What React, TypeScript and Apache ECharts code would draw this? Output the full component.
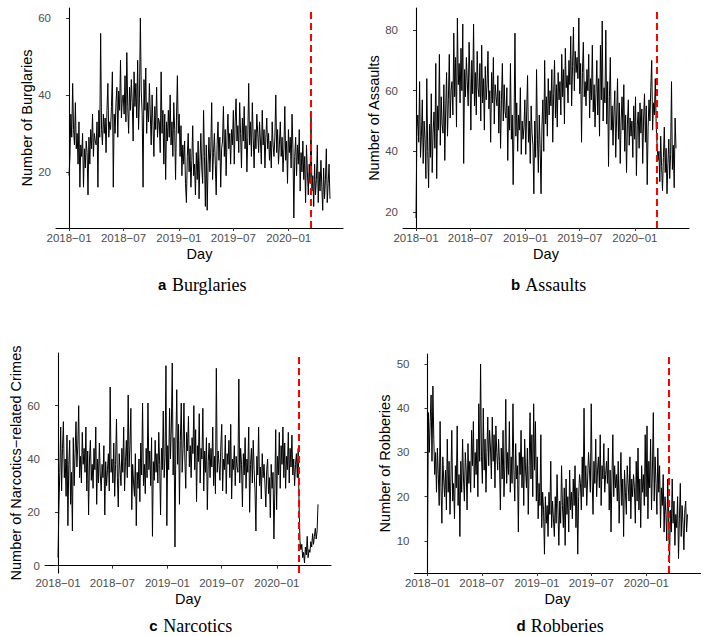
import React, { useEffect, useRef } from "react";
import * as echarts from "echarts";

// Day offsets from 2018-01-01 for the x-axis breaks, and their labels
const tickDays = [0, 181, 365, 546, 730];
const tickLabels = ["2018\u221201", "2018\u221207", "2019\u221201", "2019\u221207", "2020\u221201"];
const lockdownDay = 804; // 2020-03-15
const stepDays = 3; // one reading every 3 days from 2018-01-01

const burglaries = [
  19, 24, 35, 29, 43, 31, 27, 38, 26, 30,
  22, 33, 16, 27, 24, 30, 16, 26, 21, 28,
  25, 14, 29, 22, 31, 26, 35, 24, 30, 28,
  27, 33, 16, 36, 29, 56, 31, 27, 35, 30,
  34, 25, 36, 43, 29, 33, 31, 37, 46, 16,
  35, 30, 38, 42, 29, 41, 36, 49, 34, 39,
  40, 35, 45, 33, 51, 37, 30, 42, 36, 44,
  38, 28, 46, 37, 43, 34, 49, 31, 39, 60,
  41, 35, 16, 44, 36, 47, 30, 38, 33, 43,
  35, 27, 40, 32, 24, 37, 31, 42, 29, 34,
  33, 25, 46, 30, 36, 22, 35, 18, 33, 28,
  36, 29, 40, 27, 33, 24, 38, 31, 18, 34,
  45, 30, 35, 24, 32, 19, 27, 22, 28, 17,
  12, 24, 30, 20, 26, 16, 23, 32, 19, 22,
  14, 25, 18, 28, 13, 23, 30, 21, 17, 36,
  24, 11, 27, 10, 22, 29, 20, 26, 38, 18,
  25, 30, 22, 14, 27, 33, 23, 29, 16, 26,
  28, 37, 24, 31, 19, 29, 35, 26, 30, 22,
  31, 27, 36, 22, 33, 39, 28, 32, 25, 38,
  30, 21, 34, 28, 37, 26, 32, 20, 29, 43,
  27, 33, 24, 38, 29, 21, 31, 26, 35, 30,
  25, 33, 28, 22, 36, 27, 31, 21, 29, 34,
  26, 30, 23, 28, 21, 33, 27, 24, 29, 40,
  25, 31, 22, 27, 33, 24, 29, 20, 26, 37,
  23, 28, 17, 31, 25, 29, 21, 35, 26, 8,
  24, 29, 19, 27, 22, 31, 15, 25, 20, 28,
  18, 24, 12, 27, 20, 14, 22, 17, 34, 15,
  19, 11, 22, 14, 18, 27, 12, 20, 15, 23,
  16, 10, 21, 13, 18, 26, 12, 17, 22, 13,
];

const assaults = [
  18, 47, 52, 43, 63, 38, 45, 57, 36, 50,
  44, 31, 64, 40, 28, 49, 38, 59, 33, 46,
  53, 41, 69, 31, 55, 47, 72, 42, 58, 49,
  46, 62, 37, 54, 66, 45, 57, 72, 51, 60,
  63, 52, 79, 58, 71, 48, 84, 62, 69, 56,
  74, 60, 82, 36, 67, 58, 71, 63, 55, 76,
  64, 47, 70, 59, 82, 55, 66, 52, 73, 61,
  58, 69, 50, 75, 56, 64, 47, 68, 57, 62,
  73, 54, 60, 43, 66, 56, 71, 49, 62, 58,
  55, 65, 46, 60, 41, 57, 69, 50, 62, 53,
  51, 61, 37, 55, 47, 69, 44, 52, 29, 49,
  79, 45, 56, 40, 52, 47, 61, 39, 50, 44,
  48, 57, 39, 53, 65, 43, 50, 36, 55, 46,
  42, 26, 50, 38, 67, 44, 33, 52, 41, 26,
  48, 57, 40, 70, 49, 58, 45, 64, 52, 60,
  55, 67, 43, 59, 70, 51, 62, 48, 66, 57,
  63, 52, 72, 58, 67, 49, 74, 61, 65, 56,
  70, 62, 78, 55, 68, 81, 60, 73, 66, 71,
  64, 84, 59, 69, 43, 66, 76, 58, 63, 55,
  67, 60, 72, 51, 64, 57, 75, 53, 62, 48,
  59, 70, 52, 64, 45, 75, 57, 83, 50, 61,
  56, 80, 49, 63, 35, 58, 71, 47, 55, 42,
  53, 60, 38, 51, 64, 44, 56, 36, 50, 58,
  47, 62, 40, 52, 33, 49, 57, 42, 51, 45,
  50, 38, 55, 44, 58, 32, 49, 53, 41, 56,
  46, 54, 36, 51, 59, 43, 55, 29, 48, 57,
  50, 61, 70, 47, 56, 52, 64, 48, 42, 37,
  40, 30, 45, 35, 27, 38, 48, 33, 41, 26,
  36, 44, 31, 39, 63, 34, 42, 28, 51, 41,
];

const narcotics = [
  3, 22, 35, 52, 28, 44, 54, 33, 40, 26,
  49, 15, 38, 47, 23, 35, 13, 48, 30, 42,
  54, 37, 45, 60, 33, 41, 31, 50, 38, 44,
  35, 52, 28, 43, 19, 40, 47, 32, 38, 29,
  44, 36, 52, 23, 40, 31, 46, 34, 28, 38,
  33, 45, 19, 39, 30, 36, 42, 28, 67, 35,
  40, 31, 46, 26, 38, 55, 33, 22, 42, 36,
  30, 44, 35, 52, 28, 39, 47, 33, 64, 37,
  45, 59, 21, 38, 31, 26, 42, 15, 35, 29,
  40, 24, 46, 34, 61, 30, 38, 27, 44, 33,
  61, 36, 43, 30, 48, 11, 39, 32, 47, 35,
  42, 31, 50, 38, 19, 44, 36, 58, 33, 41,
  75, 15, 45, 36, 59, 40, 52, 76, 34, 48,
  7, 46, 66, 38, 53, 23, 47, 61, 35, 44,
  61, 40, 29, 50, 43, 56, 37, 45, 33, 48,
  42, 60, 36, 51, 24, 45, 39, 57, 31, 44,
  40, 59, 28, 43, 35, 48, 21, 39, 46, 33,
  44, 37, 52, 30, 41, 27, 74, 35, 43, 38,
  32, 45, 53, 28, 40, 36, 49, 27, 42, 38,
  47, 33, 53, 25, 40, 36, 45, 30, 41, 37,
  35, 70, 31, 44, 38, 22, 42, 34, 48, 29,
  40, 35, 52, 20, 38, 44, 31, 47, 36, 28,
  13, 41, 34, 52, 30, 37, 25, 42, 33, 38,
  31, 22, 36, 40, 27, 33, 18, 38, 29, 35,
  10, 28, 51, 21, 41, 34, 50, 29, 45, 38,
  52, 33, 46, 29, 41, 36, 50, 31, 44, 37,
  49, 34, 40, 30, 38, 42, 33, 44, 22, 9,
  6, 8, 3, 5, 1, 7, 4, 11, 3, 6,
  5, 9, 7, 12, 8, 11, 14, 10, 13, 23,
];

const robberies = [
  8, 39, 30, 37, 43, 28, 45, 33, 25, 30,
  21, 31, 25, 18, 37, 22, 14, 29, 24, 20,
  26, 17, 33, 21, 28, 16, 24, 35, 19, 23,
  15, 27, 22, 36, 18, 25, 11, 28, 21, 33,
  24, 19, 30, 26, 17, 32, 23, 28, 21, 35,
  27, 37, 22, 30, 25, 33, 20, 41, 28, 50,
  29, 23, 40, 26, 33, 21, 30, 38, 27, 35,
  31, 24, 38, 28, 34, 22, 36, 30, 26, 33,
  28, 17, 31, 24, 35, 20, 27, 42, 23, 30,
  25, 37, 21, 29, 23, 41, 26, 19, 32, 24,
  27, 12, 30, 25, 35, 22, 29, 18, 33, 26,
  22, 31, 16, 27, 39, 24, 34, 20, 41, 26,
  37, 19, 29, 15, 23, 18, 34, 13, 21, 17,
  7, 20, 14, 18, 11, 21, 16, 28, 13, 19,
  15, 11, 20, 14, 25, 17, 9, 19, 14, 27,
  18, 13, 22, 9, 24, 16, 20, 12, 26, 17,
  21, 15, 24, 18, 27, 13, 22, 7, 20, 25,
  23, 17, 29, 20, 40, 22, 27, 18, 24, 30,
  26, 21, 41, 24, 16, 28, 23, 33, 20, 26,
  29, 22, 34, 18, 27, 24, 32, 21, 25, 28,
  23, 31, 17, 26, 12, 24, 34, 20, 27, 22,
  25, 19, 28, 14, 22, 30, 18, 24, 11, 26,
  21, 16, 27, 23, 19, 29, 15, 24, 20, 25,
  22, 14, 28, 19, 31, 17, 24, 13, 27, 21,
  25, 18, 34, 20, 36, 15, 28, 22, 33, 17,
  26, 39, 19, 29, 23, 16, 31, 21, 27, 13,
  22, 18, 25, 12, 20, 16, 10, 24, 15, 5,
  17, 12, 24, 14, 19, 9, 16, 13, 20, 6,
  15, 23, 11, 18, 14, 8, 17, 19, 12, 16,
];

const panelLetters = ["a", "b", "c", "d"];
const panelTitles = ["Burglaries", "Assaults", "Narcotics", "Robberies"];
const yTitles = [
  "Number of Burglaries",
  "Number of Assaults",
  "Number of Narcotics\u2212related Crimes",
  "Number of Robberies",
];
const yTicks = [
  [20, 40, 60],
  [20, 40, 60, 80],
  [0, 20, 40, 60],
  [10, 20, 30, 40, 50],
];
const seriesValues = [burglaries, assaults, narcotics, robberies];

// layout (px)
const grids = [
  { left: 56, top: 8, width: 287, height: 220 },
  { left: 403, top: 8, width: 286, height: 220 },
  { left: 45, top: 353, width: 286, height: 220 },
  { left: 414.5, top: 354, width: 286, height: 219 },
];
const captionY = [284.5, 284.5, 625.5, 625.5];

const SANS = "'Liberation Sans', Arial, Helvetica, sans-serif";
const SERIF = "'Liberation Serif', 'Times New Roman', serif";

function expand(lo: number, hi: number) {
  const pad = (hi - lo) * 0.05;
  return [lo - pad, hi + pad];
}

export default function App() {
  const ref = useRef<HTMLDivElement>(null);
  useEffect(() => {
    if (!ref.current) return;
    const chart = echarts.init(ref.current, undefined, { renderer: "svg" });

    const lastDay = (burglaries.length - 1) * stepDays;
    const [xMin, xMax] = expand(0, lastDay);

    const xAxes: any[] = [];
    const yAxes: any[] = [];
    const series: any[] = [];
    const graphics: any[] = [];

    seriesValues.forEach((vals, k) => {
      const [yMin, yMax] = expand(Math.min(...vals), Math.max(...vals));
      xAxes.push({
        type: "value",
        gridIndex: k,
        min: xMin,
        max: xMax,
        name: "Day",
        nameLocation: "middle",
        nameGap: 18,
        nameTextStyle: { color: "#000", fontSize: 14.5, fontFamily: SANS },
        axisLine: { show: true, lineStyle: { color: "#000", width: 1.1 } },
        axisTick: { show: true, customValues: tickDays, length: 3, lineStyle: { color: "#333", width: 1 } },
        axisLabel: {
          customValues: tickDays,
          formatter: (v: number) => {
            const idx = tickDays.indexOf(Math.round(v));
            return idx >= 0 ? tickLabels[idx] : "";
          },
          color: "#4d4d4d",
          fontSize: 11.5,
          fontFamily: SANS,
          margin: 4,
        },
        splitLine: { show: false },
      });
      yAxes.push({
        type: "value",
        gridIndex: k,
        min: yMin,
        max: yMax,
        name: yTitles[k],
        nameLocation: "middle",
        nameRotate: 90,
        nameGap: 22,
        nameTextStyle: { color: "#000", fontSize: 14.5, fontFamily: SANS },
        axisLine: { show: true, lineStyle: { color: "#000", width: 1.1 } },
        axisTick: { show: true, customValues: yTicks[k], length: 3, lineStyle: { color: "#333", width: 1 } },
        axisLabel: {
          customValues: yTicks[k],
          color: "#4d4d4d",
          fontSize: 11.5,
          fontFamily: SANS,
          margin: 5,
        },
        splitLine: { show: false },
      });
      series.push({
        type: "line",
        xAxisIndex: k,
        yAxisIndex: k,
        data: vals.map((v, i) => [i * stepDays, v]),
        showSymbol: false,
        symbol: "none",
        silent: true,
        lineStyle: { color: "#000", width: 1 },
        markLine: {
          silent: true,
          symbol: ["none", "none"],
          label: { show: false },
          lineStyle: { color: "#ff0000", type: [7, 4], width: 2 },
          data: [{ xAxis: lockdownDay }],
        },
      });
      const g = grids[k];
      graphics.push({
        type: "text",
        x: g.left + g.width / 2,
        y: captionY[k],
        style: {
          text: `{b|${panelLetters[k]}}{t|${panelTitles[k]}}`,
          align: "center",
          verticalAlign: "middle",
          rich: {
            b: { fontFamily: SANS, fontWeight: "bold", fontSize: 15, width: 19.5, fill: "#000" },
            t: { fontFamily: SERIF, fontSize: 18, fill: "#000" },
          },
        },
      });
    });

    chart.setOption({
      animation: false,
      backgroundColor: "#fff",
      grid: grids.map((g) => ({ ...g, containLabel: false })),
      xAxis: xAxes,
      yAxis: yAxes,
      series,
      graphic: graphics,
    });
    return () => chart.dispose();
  }, []);
  return (
    <div
      ref={ref}
      style={{ position: "absolute", left: 0, top: 0, width: 709, height: 636 }}
    />
  );
}
